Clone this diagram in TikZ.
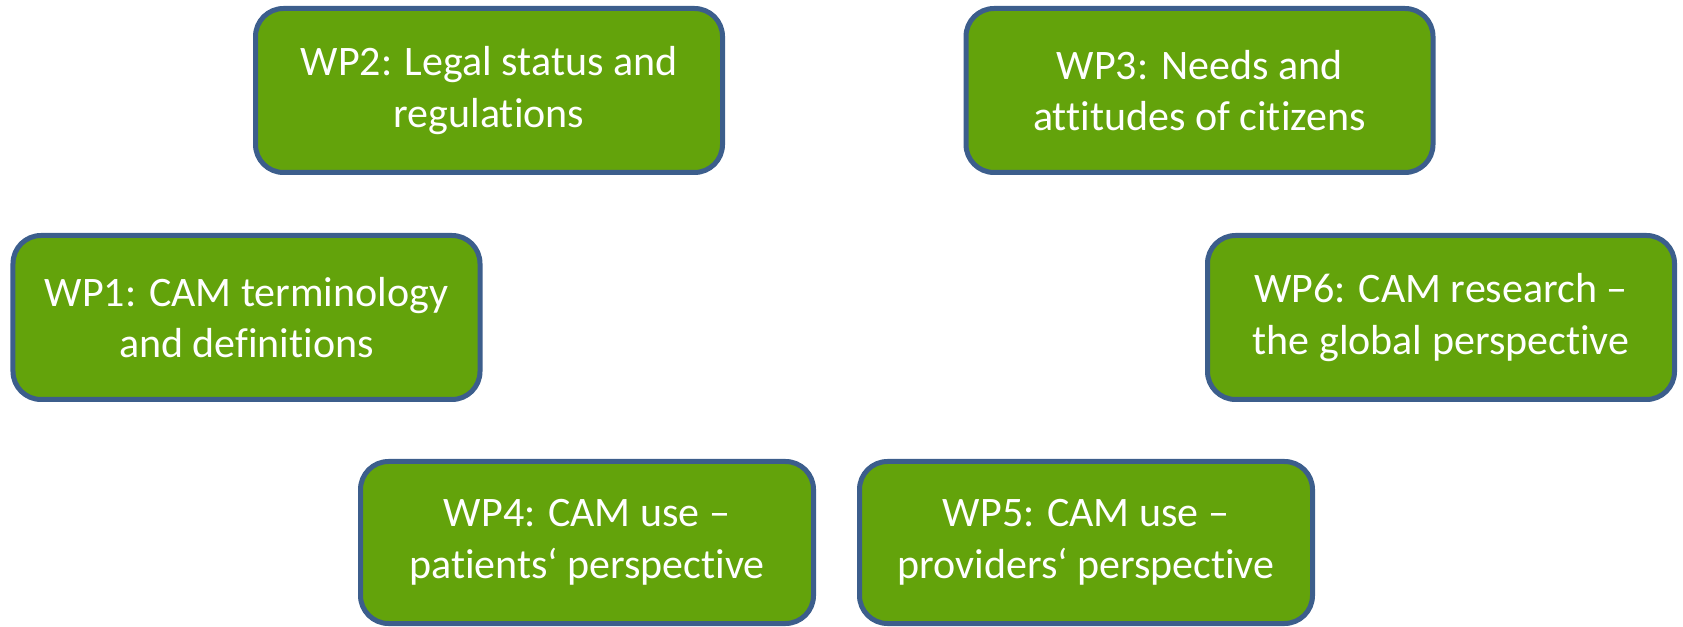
\documentclass[tikz,border=0pt]{standalone}
\usepackage{fontspec}
\setmainfont{Carlito}[Ligatures={TeX,NoCommon}]
\usepackage{tikz}
\usepackage{xcolor}
\definecolor{wpgreen}{RGB}{99,163,11}
\definecolor{wpblue}{RGB}{60,94,140}
\tikzstyle{wp} = [rectangle, draw=wpblue, fill=wpgreen, line width=0.1cm, rounded corners=0.56cm, text=white, align=center, minimum width=9.34cm, minimum height=3.28cm, font=\fontsize{23.9}{29.5}\selectfont]
\tikzstyle{wplow} = [wp, minimum width=9.06cm, minimum height=3.24cm]

\begin{document}
\begin{tikzpicture}
  \useasboundingbox (0,0) rectangle (33.66,-12.54);
  % top row
  \node[wp] (WP2) at (9.78,-1.81) {WP2: Legal status and\\regulations};
  \node[wp] (WP3) at (23.99,-1.81) {WP3: Needs and\\attitudes of citizens};
  % middle row
  \node[wp] (WP1) at (4.93,-6.35) {WP1: CAM terminology\\and definitions};
  \node[wp] (WP6) at (28.82,-6.35) {WP6: CAM research –\\the global perspective};
  % bottom row
  \node[wplow] (WP4) at (11.74,-10.85) {WP4: CAM use –\\patients‘ perspective};
  \node[wplow] (WP5) at (21.72,-10.85) {WP5: CAM use –\\providers‘ perspective};
\end{tikzpicture}
\end{document}
